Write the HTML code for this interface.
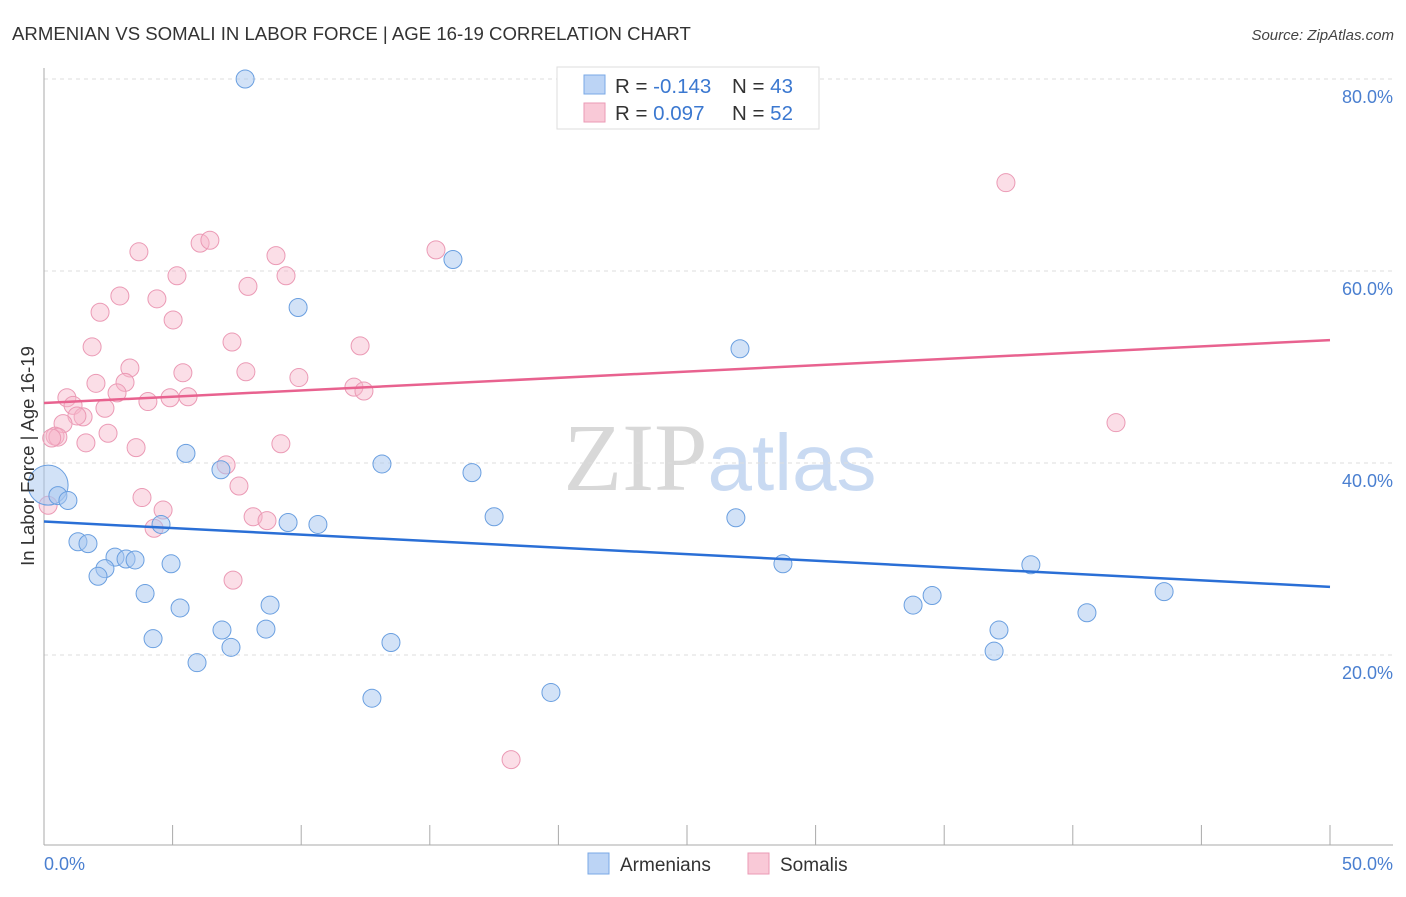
<!DOCTYPE html>
<html><head><meta charset="utf-8"><style>
body{margin:0;background:#fff;font-family:"Liberation Sans",sans-serif;}
svg text{font-family:"Liberation Sans",sans-serif;}
</style></head><body>
<svg id="chart" width="1406" height="892" xmlns="http://www.w3.org/2000/svg">
<text x="12" y="40" font-size="18.6" fill="#333">ARMENIAN VS SOMALI IN LABOR FORCE | AGE 16-19 CORRELATION CHART</text>
<text x="1394" y="40" font-size="15" fill="#444" text-anchor="end" font-style="italic">Source: ZipAtlas.com</text>
<text x="720" y="490" font-size="96" text-anchor="middle"><tspan fill="#d8d8d8" font-family="Liberation Serif">ZIP</tspan><tspan fill="#c9daf2" font-size="80">atlas</tspan></text>
<g id="grid"></g><g id="axes"></g><g id="pts"></g><g id="lines"></g>
<text transform="translate(34,456) rotate(-90)" font-size="18.5" fill="#333" text-anchor="middle">In Labor Force | Age 16-19</text>
<g>
<rect x="557" y="67" width="262" height="62" fill="#fff" stroke="#ddd"/>
<rect x="584" y="75" width="21" height="19" fill="#bcd4f5" stroke="#7aa8e6"/>
<rect x="584" y="103" width="21" height="19" fill="#f9c9d7" stroke="#eb9ab5"/>
<text x="615" y="93" font-size="20.5" fill="#333">R = <tspan fill="#3b78d0">-0.143</tspan></text>
<text x="732" y="93" font-size="20.5" fill="#333">N = <tspan fill="#3b78d0">43</tspan></text>
<text x="615" y="120" font-size="20.5" fill="#333">R = <tspan fill="#3b78d0"> 0.097</tspan></text>
<text x="732" y="120" font-size="20.5" fill="#333">N = <tspan fill="#3b78d0">52</tspan></text>
</g>
<g>
<rect x="588" y="853" width="21" height="21" fill="#bcd4f5" stroke="#7aa8e6"/>
<text x="620" y="871" font-size="19" fill="#333">Armenians</text>
<rect x="748" y="853" width="21" height="21" fill="#f9c9d7" stroke="#eb9ab5"/>
<text x="780" y="871" font-size="19" fill="#333">Somalis</text>
</g>
</svg>
<script>
const yTicks=[20,40,60,80];
const yTickLabels=["20.0%","40.0%","60.0%","80.0%"];
const blueX=[7.82,15.9,9.88,27.06,5.52,13.14,16.64,6.88,0.16,0.54,0.93,17.5,26.9,4.55,9.49,10.65,1.32,1.71,2.76,3.19,3.54,4.94,28.73,38.37,2.37,2.10,43.55,3.93,34.53,33.79,8.79,5.29,40.55,6.92,8.63,37.13,4.24,13.49,7.27,36.94,5.95,19.71,12.75];
const blueY=[80.0,61.2,56.2,51.9,41.0,39.9,39.0,39.3,37.7,36.6,36.1,34.4,34.3,33.6,33.8,33.6,31.8,31.6,30.2,30.0,29.9,29.5,29.5,29.4,29.0,28.2,26.6,26.4,26.2,25.2,25.2,24.9,24.4,22.6,22.7,22.6,21.7,21.3,20.8,20.4,19.2,16.1,15.5];
const pinkX=[3.69,6.07,6.45,9.02,9.41,5.17,7.93,4.39,2.95,2.18,5.02,7.31,1.87,12.29,3.34,5.40,7.85,9.91,2.02,3.15,12.05,12.44,0.89,2.84,4.04,5.60,4.90,1.13,2.37,1.52,1.28,0.74,2.49,0.43,0.54,1.63,3.58,9.21,7.08,7.58,3.81,4.63,8.13,8.67,4.28,0.16,7.35,15.24,37.40,41.68,18.16,0.3];
const pinkY=[62.0,62.9,63.2,61.6,59.5,59.5,58.4,57.1,57.4,55.7,54.9,52.6,52.1,52.2,49.9,49.4,49.5,48.9,48.3,48.4,47.9,47.5,46.8,47.3,46.4,46.9,46.8,46.0,45.7,44.8,44.9,44.1,43.1,42.8,42.7,42.1,41.6,42.0,39.8,37.6,36.4,35.1,34.4,34.0,33.2,35.6,27.8,62.2,69.2,44.2,9.1,42.6];
const blueTrend=[33.9,27.1];
const pinkTrend=[46.25,52.8];
const X=v=>44+v/50*1286, Y=v=>847-v/20*192;
const NS='http://www.w3.org/2000/svg';
function mk(tag,attrs,parent){const e=document.createElementNS(NS,tag);for(const k in attrs)e.setAttribute(k,attrs[k]);document.getElementById(parent).appendChild(e);return e;}
yTicks.forEach((t,i)=>{
 const g=mk('line',{x1:44,x2:1393,y1:Y(t),y2:Y(t),stroke:'#ddd','stroke-dasharray':'4,4'},'grid');
 
 
 const l=mk('text',{x:1393,y:Y(t)+24,'font-size':18,fill:'#4a7fd0','text-anchor':'end'},'grid');
 l.textContent=yTickLabels[i];
 
 
});
mk('line',{x1:44,x2:44,y1:68,y2:845,stroke:'#aaa'},'axes');
mk('line',{x1:44,x2:1393,y1:845,y2:845,stroke:'#aaa'},'axes');
for(let k=0;k<=10;k++){const t=mk('line',{x1:X(k*5),x2:X(k*5),y1:825,y2:845,stroke:'#aaa'},'axes');
 
 }
const x0=mk('text',{x:44,y:870,'font-size':18,fill:'#4a7fd0'},'axes');x0.textContent='0.0%';


const x1=mk('text',{x:1393,y:870,'font-size':18,fill:'#4a7fd0','text-anchor':'end'},'axes');x1.textContent='50.0%';


pinkX.forEach((v,i)=>{const c=mk('circle',{cx:X(v),cy:Y(pinkY[i]),r:9,fill:'rgba(246,182,202,0.45)',stroke:'#eb9ab5','stroke-width':1},'pts');
 
 });
blueX.forEach((v,i)=>{const c=mk('circle',{cx:X(v),cy:Y(blueY[i]),r:i==8?20:9,fill:'rgba(166,197,240,0.5)',stroke:'#6a9fe0','stroke-width':1},'pts');
 
 });
const bl=mk('line',{x1:X(0),x2:X(50),y1:Y(blueTrend[0]),y2:Y(blueTrend[1]),stroke:'#2a6fd6','stroke-width':2.5},'lines');


const pl=mk('line',{x1:X(0),x2:X(50),y1:Y(pinkTrend[0]),y2:Y(pinkTrend[1]),stroke:'#e8628f','stroke-width':2.5},'lines');


</script>
</body></html>
